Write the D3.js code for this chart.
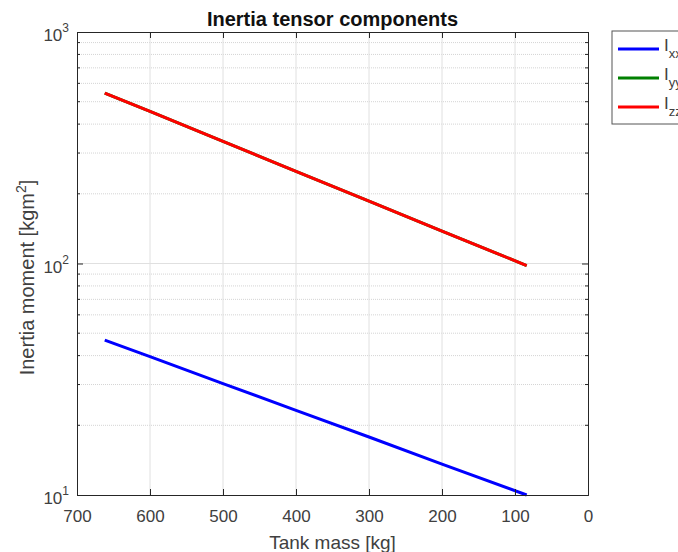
<!DOCTYPE html>
<html>
<head>
<meta charset="utf-8">
<script src="https://cdn.jsdelivr.net/npm/d3@7"></script>
<style>
  body { margin: 0; background: #fff; overflow: hidden; }
  text { font-family: "Liberation Sans", Arial, sans-serif; }
</style>
</head>
<body>
<svg id="chart"></svg>
<script>
// values
const tankMass = [662, 600, 500, 400, 300, 200, 84];
const Ixx = [46.7, 39.6, 30.3, 23.2, 17.8, 13.6, 10.0];
const Iyy = [545, 454, 337, 250, 186, 138, 98];
const Izz = [545, 454, 337, 250, 186, 138, 98];
const xTicks = [700, 600, 500, 400, 300, 200, 100, 0];
const yTicks = [10, 100, 1000];

const series = [
  { name: "xx", values: Ixx, color: "#0000ff" },
  { name: "yy", values: Iyy, color: "#008000" },
  { name: "zz", values: Izz, color: "#ff0000" }
];

const width = 678, height = 552;
const margin = { top: 32, right: 90, bottom: 57, left: 77 };
const w = 588 - margin.left;
const h = 495 - margin.top;

const svg = d3.select("#chart").attr("width", width).attr("height", height);
const g = svg.append("g").attr("transform", `translate(${margin.left},${margin.top})`);

const x = d3.scaleLinear().domain([700, 0]).range([0, w]);
const y = d3.scaleLog().domain([10, 1000]).range([h, 0]);

// minor values for log axis
const minor = [];
[10, 100].forEach((d) => { for (let k = 2; k <= 9; k++) minor.push(d * k); });

// grid
g.append("g")
  .selectAll("line")
  .data(minor)
  .join("line")
  .attr("x1", 0).attr("x2", w)
  .attr("y1", (d) => y(d)).attr("y2", (d) => y(d))
  .attr("stroke", "#d4d4d4")
  .attr("stroke-dasharray", "1,1");

g.append("g")
  .selectAll("line")
  .data(xTicks.slice(1, -1))
  .join("line")
  .attr("x1", (d) => x(d)).attr("x2", (d) => x(d))
  .attr("y1", 0).attr("y2", h)
  .attr("stroke", "#e0e0e0");

g.append("g")
  .selectAll("line")
  .data([100])
  .join("line")
  .attr("x1", 0).attr("x2", w)
  .attr("y1", (d) => y(d)).attr("y2", (d) => y(d))
  .attr("stroke", "#e0e0e0");

// lines
const line = d3.line()
  .x((d, i) => x(tankMass[i]))
  .y((d) => y(d));

[series[1], series[2], series[0]].forEach((s) => {
  g.append("path")
    .datum(s.values)
    .attr("fill", "none")
    .attr("stroke", s.color)
    .attr("stroke-width", 3)
    .attr("d", line);
});

// axes (ticks inward, box)
const axisColor = "#262626";
const labelColor = "#404040";
const xAxis = g.append("g")
  .attr("transform", `translate(0,${h})`)
  .call(d3.axisBottom(x).tickValues(xTicks).tickSize(-6).tickPadding(15).tickFormat(d3.format("d")));
const xTop = g.append("g")
  .call(d3.axisTop(x).tickValues(xTicks).tickSize(-6).tickFormat(""));

const yAxis = g.append("g")
  .call(d3.axisLeft(y).tickValues(yTicks).tickSize(-6).tickFormat(""));
const yRight = g.append("g")
  .attr("transform", `translate(${w},0)`)
  .call(d3.axisRight(y).tickValues(yTicks).tickSize(-6).tickFormat(""));

// minor ticks
[0, w].forEach((x0) => {
  g.append("g")
    .selectAll("line")
    .data(minor)
    .join("line")
    .attr("x1", x0).attr("x2", x0 === 0 ? 3 : w - 3)
    .attr("y1", (d) => y(d)).attr("y2", (d) => y(d))
    .attr("stroke", axisColor);
});

[xAxis, xTop, yAxis, yRight].forEach((a) => {
  a.select(".domain").attr("stroke", axisColor);
  a.selectAll(".tick line").attr("stroke", axisColor);
});
xAxis.selectAll("text")
  .attr("fill", labelColor)
  .style("font-size", "17px");

// y tick labels as 10^n
yTicks.forEach((d) => {
  const t = g.append("text")
    .attr("x", -8)
    .attr("y", y(d) + 9)
    .attr("text-anchor", "end")
    .attr("fill", labelColor)
    .style("font-size", "17px");
  t.append("tspan").text("10");
  t.append("tspan").attr("dy", -9).style("font-size", "12px").text(Math.round(Math.log10(d)));
});

// title and labels
svg.append("text")
  .attr("x", margin.left + w / 2)
  .attr("y", 26)
  .attr("text-anchor", "middle")
  .attr("fill", "#111")
  .style("font-size", "20px")
  .style("font-weight", "bold")
  .text("Inertia tensor components");

svg.append("text")
  .attr("x", margin.left + w / 2)
  .attr("y", 549)
  .attr("text-anchor", "middle")
  .attr("fill", labelColor)
  .style("font-size", "19px")
  .text("Tank mass [kg]");

const yl = svg.append("text")
  .attr("transform", `translate(34,${margin.top + h / 2 + 14}) rotate(-90)`)
  .attr("text-anchor", "middle")
  .attr("fill", labelColor)
  .style("font-size", "20px");
yl.append("tspan").text("Inertia moment [kgm");
yl.append("tspan").attr("dy", -8).style("font-size", "14px").text("2");
yl.append("tspan").attr("dy", 8).text("]");

// legend
const lg = svg.append("g").attr("transform", "translate(612,31)");
lg.append("rect")
  .attr("width", 100).attr("height", 93)
  .attr("fill", "#fff")
  .attr("stroke", "#555");
series.forEach((s, i) => {
  const ry = 18 + i * 29;
  lg.append("line")
    .attr("x1", 6).attr("x2", 47)
    .attr("y1", ry).attr("y2", ry)
    .attr("stroke", s.color)
    .attr("stroke-width", 3);
  const t = lg.append("text")
    .attr("x", 52).attr("y", ry + 2)
    .attr("fill", labelColor)
    .style("font-size", "17px");
  t.append("tspan").text("I");
  t.append("tspan").attr("dy", 7).style("font-size", "13px").text(s.name);
});
</script>
</body>
</html>
